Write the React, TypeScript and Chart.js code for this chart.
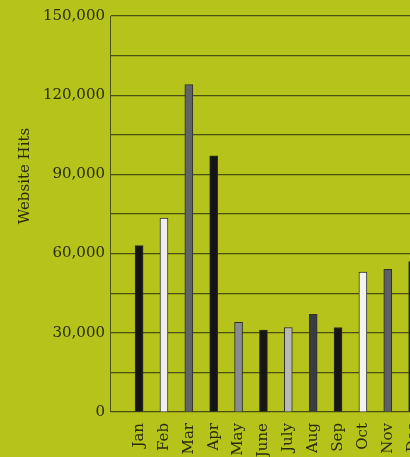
import React, { useEffect, useRef } from "react";
import { Chart, registerables } from "chart.js";

Chart.register(...registerables);

const months = ["Jan", "Feb", "Mar", "Apr", "May", "June", "July", "Aug", "Sep", "Oct", "Nov", "Dec"];
const hits = [63000, 73500, 124000, 97000, 34000, 31000, 32000, 37000, 32000, 53000, 54000, 57000];
const barColors = ["#141414", "#eeeeee", "#5f6468", "#141414", "#878c92", "#161616", "#b8b8b8", "#3a3d40", "#161616", "#f2f2f2", "#5c6064", "#1e1e1e"];
const yTitle = "Website Hits";

const BG = "#b5c31b";
const INK = "#2a2c0e";
const GRID = "#4a4f12";
const FONT = "'DejaVu Serif', serif";

const titlePlugin = {
  id: "yTitleDraw",
  afterDraw(chart: any) {
    const ctx = chart.ctx;
    ctx.save();
    ctx.translate(25, 176);
    ctx.rotate(-Math.PI / 2);
    ctx.font = `15px ${FONT}`;
    ctx.fillStyle = INK;
    ctx.textAlign = "center";
    ctx.textBaseline = "middle";
    ctx.fillText(yTitle, 0, 0);
    ctx.restore();
  },
};

export default function App() {
  const ref = useRef<HTMLCanvasElement>(null);
  useEffect(() => {
    if (!ref.current) return;
    const chart = new Chart(ref.current, {
      type: "bar",
      data: {
        datasets: [
          {
            data: hits.map((v, i) => ({ x: i, y: v })),
            backgroundColor: barColors,
            borderColor: "#2e3020",
            borderWidth: 1,
            barThickness: 8,
          },
        ],
      },
      options: {
        animation: false,
        responsive: false,
        layout: { padding: { top: 16, bottom: 8, left: 0, right: 0 } },
        plugins: { legend: { display: false }, tooltip: { enabled: false } },
        scales: {
          x: {
            type: "linear",
            offset: false,
            min: -1.17,
            max: 12.1,
            grid: { display: false, offset: false },
            border: { display: false },
            afterBuildTicks: (s: any) => {
              s.ticks = months.map((_, i) => ({ value: i }));
            },
            afterFit: (s: any) => {
              s.height = 50;
              s.paddingLeft = 0;
              s.paddingRight = 0;
            },
            ticks: {
              autoSkip: false,
              minRotation: 90,
              maxRotation: 90,
              padding: 3,
              color: INK,
              font: { family: FONT, size: 15 },
              callback: (v: any) => months[v] ?? "",
            },
          },
          y: {
            min: 0,
            max: 150000,
            afterFit: (s: any) => {
              s.width = 110;
            },
            grid: { color: GRID, lineWidth: 1.2, drawTicks: false },
            border: { display: true, color: GRID, width: 1 },
            ticks: {
              stepSize: 15000,
              padding: 5,
              color: INK,
              font: { family: FONT, size: 15 },
              callback: (v: any) => (v % 30000 === 0 ? Number(v).toLocaleString("en-US") : ""),
            },
          },
        },
      },
      plugins: [titlePlugin],
    });
    return () => chart.destroy();
  }, []);
  return (
    <div style={{ position: "absolute", left: 0, top: 0, width: 410, height: 457, overflow: "hidden", background: BG }}>
      <canvas ref={ref} width={440} height={470} style={{ display: "block" }} />
    </div>
  );
}
